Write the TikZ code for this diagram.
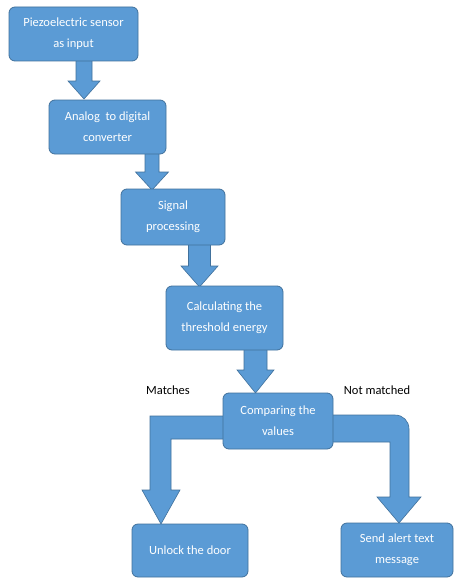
\documentclass[tikz,border=0pt]{standalone}
\usepackage{fontspec}
\setmainfont{Carlito}
\definecolor{boxfill}{RGB}{91,155,213}
\definecolor{boxline}{RGB}{65,113,156}
\begin{document}
\begin{tikzpicture}[x=1pt,y=-1pt,
  box/.style={draw=boxline, line width=0.8pt, fill=boxfill, rounded corners=6pt,
    text=white, align=center, font=\fontsize{12.5}{21}\selectfont, inner sep=0pt},
  arr/.style={draw=boxline, line width=0.6pt, fill=boxfill, line join=miter},
  lbl/.style={font=\fontsize{12.5}{14}\selectfont, text=black, inner sep=0pt}]
\useasboundingbox (0,0) rectangle (463,578);
\fill[white] (0,0) rectangle (463,578);
% block arrow: #1 centre x, #2 top y, #3 head base y, #4 tip y, #5 shaft half width, #6 head half width
\newcommand\blockdown[6]{%
  \path[arr] (#1-#5,#2) -- (#1+#5,#2) -- (#1+#5,#3) -- (#1+#6,#3) -- (#1,#4)
    -- (#1-#6,#3) -- (#1-#5,#3) -- cycle;}
% arrows (drawn first, boxes on top)
\blockdown{84}{58}{81}{99}{8}{16}
\blockdown{152}{151}{172}{190}{7}{16.5}
\blockdown{199.5}{242}{266}{287}{11}{18.5}
\blockdown{255.5}{347}{370}{393}{11.5}{18.5}
% left branch
\path[arr] (230,416) -- (150,416) -- (150,490) -- (142,490) -- (161,524) -- (180,490)
  -- (171,490) -- (171,439) -- (230,439) -- cycle;
% right branch
\path[arr] (326,415) -- (395,415) .. controls (403,415) and (409,421) .. (409,429) -- (409,497)
  -- (421,497) -- (399,523) -- (377,497) -- (390,497) -- (390,442) -- (326,442) -- cycle;
% boxes
\node[box, minimum width=129pt, minimum height=54pt] (b1) at (73.5,34) {Piezoelectric sensor\\as input};
\node[box, minimum width=117pt, minimum height=54pt] (b2) at (107.5,127) {Analog\ \ to digital\\converter};
\node[box, minimum width=104pt, minimum height=56pt] (b3) at (173,217) {Signal\\processing};
\node[box, minimum width=117pt, minimum height=64pt] (b4) at (224.5,318) {Calculating the\\threshold energy};
\node[box, minimum width=110pt, minimum height=56pt] (b5) at (278,421) {Comparing the\\values};
\node[box, minimum width=116pt, minimum height=53pt] (b6) at (190,550.5) {Unlock the door};
\node[box, minimum width=112pt, minimum height=54pt] (b7) at (397,550) {Send alert text\\message};
% labels
\node[lbl] (m) at (168,390) {Matches};
\node[lbl] (n) at (377,390) {Not matched};
\end{tikzpicture}
\end{document}
